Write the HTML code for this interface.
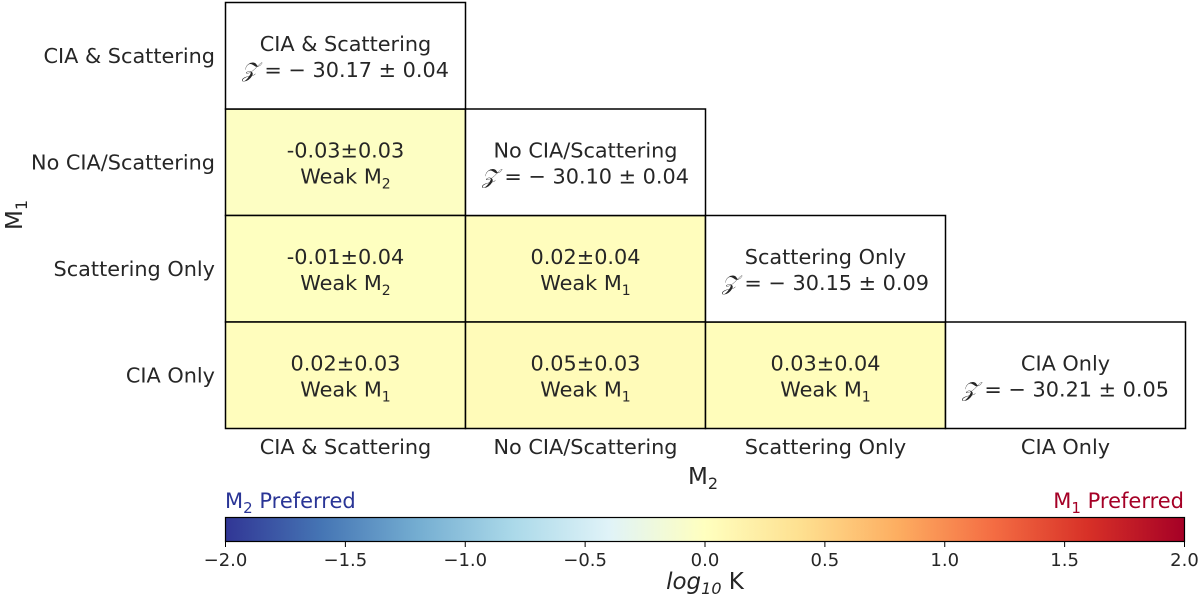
<!DOCTYPE html>
<html><head><meta charset="utf-8"><style>
body{margin:0;background:#fff}
svg text{font-family:"DejaVu Sans","Liberation Sans",sans-serif;fill:#262626}
</style></head><body>
<svg id="chart" width="1200" height="599" xmlns="http://www.w3.org/2000/svg">
<defs><linearGradient id="cmap" x1="0" x2="1" y1="0" y2="0">
<stop offset="0" stop-color="#313695"/><stop offset="0.1" stop-color="#4575b4"/><stop offset="0.2" stop-color="#74add1"/><stop offset="0.3" stop-color="#abd9e9"/><stop offset="0.4" stop-color="#e0f3f8"/><stop offset="0.5" stop-color="#ffffbf"/><stop offset="0.6" stop-color="#fee090"/><stop offset="0.7" stop-color="#fdae61"/><stop offset="0.8" stop-color="#f46d43"/><stop offset="0.9" stop-color="#d73027"/><stop offset="1" stop-color="#a50026"/>
</linearGradient></defs>
<g id="grid"></g>
<text x="703" y="484" text-anchor="middle" font-size="23">M<tspan font-size="16" dy="5">2</tspan></text>
<text transform="translate(22,215) rotate(-90)" text-anchor="middle" font-size="23">M<tspan font-size="16" dy="5">1</tspan></text>
<rect x="225.5" y="517.5" width="959" height="24" fill="url(#cmap)" stroke="#000" stroke-width="1.2"/>
<g id="cbticks"></g>
<text x="225" y="508" font-size="21" style="fill:#2a3596">M<tspan font-size="15" dy="5">2</tspan><tspan dy="-5"> Preferred</tspan></text>
<text x="1184" y="508" text-anchor="end" font-size="21" style="fill:#a50026">M<tspan font-size="15" dy="5">1</tspan><tspan dy="-5"> Preferred</tspan></text>
<text x="705" y="589" text-anchor="middle" font-size="23"><tspan font-style="italic">log</tspan><tspan font-size="16" dy="5" font-style="italic">10</tspan><tspan dy="-5"> K</tspan></text>
</svg>
<script>
const models=["CIA & Scattering","No CIA/Scattering","Scattering Only","CIA Only"];
const evidence=[-30.17,-30.10,-30.15,-30.21];
const evidenceErr=[0.04,0.04,0.09,0.05];
const pairRows=[1,2,2,3,3,3];
const pairCols=[0,0,1,0,1,2];
const pairVals=[-0.03,-0.01,0.02,0.02,0.05,0.03];
const pairErrs=[0.03,0.04,0.04,0.03,0.03,0.04];
const cbTicks=[-2.0,-1.5,-1.0,-0.5,0.0,0.5,1.0,1.5,2.0];

const NS="http://www.w3.org/2000/svg";
const X0=225.5,Y0=2.5,CW=240,RH=106.5,CB0=225.5,CB1=1184.5;
const FS=20.8;
const colX=i=>X0+i*CW, rowY=i=>Y0+i*RH;
const cbX=v=>CB0+(v+2)/4*(CB1-CB0);
const stops=[[49,54,149],[69,117,180],[116,173,209],[171,217,233],[224,243,248],[255,255,191],[254,224,144],[253,174,97],[244,109,67],[215,48,39],[165,0,38]];
function cmap(v){let t=Math.max(0,Math.min(1,(v+2)/4))*10;let i=Math.min(9,Math.floor(t)),f=t-i;const a=stops[i],b=stops[i+1];return `rgb(${a.map((c,k)=>Math.round(c+(b[k]-c)*f)).join(',')})`;}
function el(tag,attrs,parent){const e=document.createElementNS(NS,tag);for(const k in attrs)e.setAttribute(k,attrs[k]);parent.appendChild(e);return e;}
const g=document.getElementById('grid');
function fmt(v){return v.toFixed(2);}
function twoLine(x,y,l1,l2html,name){
  const t1=el('text',{x:x,y:y-5,'text-anchor':'middle','font-size':FS},g);t1.textContent=l1;
  
  
  const t2=el('text',{x:x,y:y+21,'text-anchor':'middle','font-size':FS},g);t2.innerHTML=l2html;
  
  
}
pairVals.forEach((v,k)=>{
  const r=pairRows[k],c=pairCols[k];
  const rc=el('rect',{x:colX(c),y:rowY(r),width:CW,height:RH,fill:cmap(v),stroke:'#000','stroke-width':1.5},g);
  
  
  const w=v>=0?'1':'2';
  twoLine(colX(c)+CW/2,rowY(r)+RH/2,fmt(v)+'±'+fmt(pairErrs[k]),'Weak M<tspan font-size="14" dy="5">'+w+'</tspan>','cell-r'+r+'-c'+c);
});
models.forEach((m,i)=>{
  const rc=el('rect',{x:colX(i),y:rowY(i),width:CW,height:RH,fill:'#fff',stroke:'#000','stroke-width':1.5},g);
  
  
  twoLine(colX(i)+CW/2,rowY(i)+RH/2,m,'<tspan font-family="Liberation Serif" font-style="italic">𝒵</tspan> = − '+Math.abs(evidence[i]).toFixed(2)+' ± '+evidenceErr[i].toFixed(2),'diag-'+i);
  const yl=el('text',{x:215,y:rowY(i)+RH/2+7,'text-anchor':'end','font-size':FS},g);yl.textContent=m;
  
  
  const xl=el('text',{x:colX(i)+CW/2,y:454,'text-anchor':'middle','font-size':FS},g);xl.textContent=m;
  
  
});
const cb=document.getElementById('cbticks');
cbTicks.forEach(v=>{
  const l=el('line',{x1:cbX(v),x2:cbX(v),y1:541.5,y2:547,stroke:'#000','stroke-width':1},cb);
  
  
  const t=el('text',{x:cbX(v),y:566,'text-anchor':'middle','font-size':18},cb);t.textContent=(v<0?'−':'')+Math.abs(v).toFixed(1);
  
  
});
</script>
</body></html>
